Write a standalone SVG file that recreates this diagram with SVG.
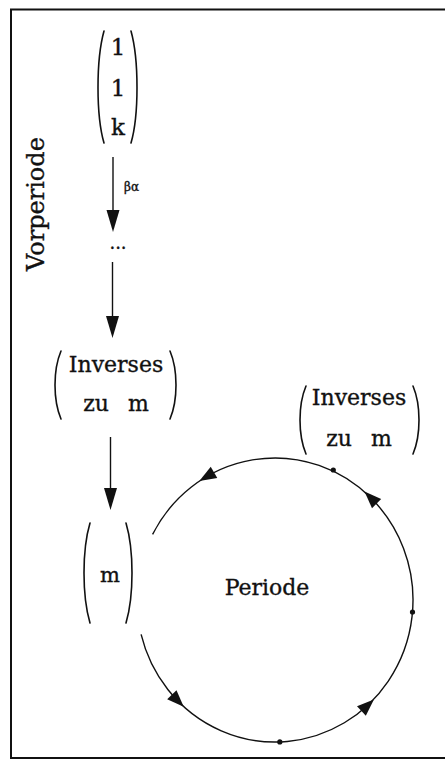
<svg xmlns="http://www.w3.org/2000/svg" xmlns:xlink="http://www.w3.org/1999/xlink" width="445" height="762" viewBox="0 0 445 762">
<style>
.t{font-family:"DejaVu Serif","Liberation Serif",serif;fill:#111;stroke:#111;stroke-width:0.35;}
.p{fill:none;stroke:#111;stroke-width:1.6;stroke-linecap:round;}
.c{fill:none;stroke:#111;stroke-width:1.4;}
.h{fill:#111;stroke:none;}
</style>
<defs>
<path id="ah" d="M9,0 L-8,-6.5 L-8,6.5 Z"/>
</defs>
<rect width="445" height="762" fill="#fff"/>
<path d="M445,9.5 L11,9.5 L11,758 L445,758" fill="none" stroke="#111" stroke-width="2"/>

<g id="vorperiode">
<text class="t" font-size="24" transform="translate(44,204) rotate(-90)" text-anchor="middle">Vorperiode</text>
</g>

<g id="start">
<path class="p" d="M104,31 C96,60 96,115 104,143"/>
<path class="p" d="M131,31 C139,60 139,115 131,143"/>
<text class="t" font-size="23" x="118" y="55" text-anchor="middle">1</text>
<text class="t" font-size="23" x="118" y="96" text-anchor="middle">1</text>
<text class="t" font-size="23" x="118" y="135" text-anchor="middle">k</text>
</g>

<g id="dots">
<text class="t" font-size="18" x="118" y="249" text-anchor="middle">...</text>
</g>

<g id="inverses1">
<path class="p" d="M61,351 C53,370 53,400 61,419"/>
<path class="p" d="M170,351 C178,370 178,400 170,419"/>
<text class="t" font-size="22" x="116" y="372" text-anchor="middle">Inverses</text>
<text class="t" font-size="22" x="116" y="411" text-anchor="middle" word-spacing="12">zu m</text>
</g>

<g id="m">
<path class="p" d="M90,523 C82,550 82,596 90,623"/>
<path class="p" d="M126,523 C134,550 134,596 126,623"/>
<text class="t" font-size="21" x="110" y="582" text-anchor="middle">m</text>
</g>

<g id="inverses2">
<path class="p" d="M306,386 C298,405 298,435 306,454"/>
<path class="p" d="M413,386 C421,405 421,435 413,454"/>
<text class="t" font-size="22" x="359" y="405" text-anchor="middle">Inverses</text>
<text class="t" font-size="22" x="359" y="446" text-anchor="middle" word-spacing="12">zu m</text>
</g>

<g id="periode">
<text class="t" font-size="22" x="267" y="595" text-anchor="middle">Periode</text>
</g>

<g id="connectors">
<line class="c" x1="113" y1="157" x2="113" y2="215"/>
<path class="h" d="M113,232 L106.5,210 L119.5,210 Z"/>
<text class="t" font-size="12" x="124" y="191">βα</text>
<line class="c" x1="112.5" y1="262" x2="112.5" y2="322"/>
<path class="h" d="M112.5,338 L106,316 L119,316 Z"/>
<line class="c" x1="110.5" y1="437" x2="110.5" y2="494"/>
<path class="h" d="M110.5,510 L104,488 L117,488 Z"/>
<path class="c" d="M141.1,634.4 A138,142 0 1 0 152.6,534.4"/>
<use xlink:href="#ah" class="h" transform="translate(177.4,700.4) rotate(45.8)"/>
<use xlink:href="#ah" class="h" transform="translate(367.3,705.5) rotate(-42.8)"/>
<use xlink:href="#ah" class="h" transform="translate(370.9,497.9) rotate(-135.2)"/>
<use xlink:href="#ah" class="h" transform="translate(207.1,476.4) rotate(149.8)"/>
<circle class="h" cx="333.3" cy="470" r="2.6"/>
<circle class="h" cx="412.5" cy="612" r="2.6"/>
<circle class="h" cx="279.8" cy="741.9" r="2.6"/>
</g>
</svg>
